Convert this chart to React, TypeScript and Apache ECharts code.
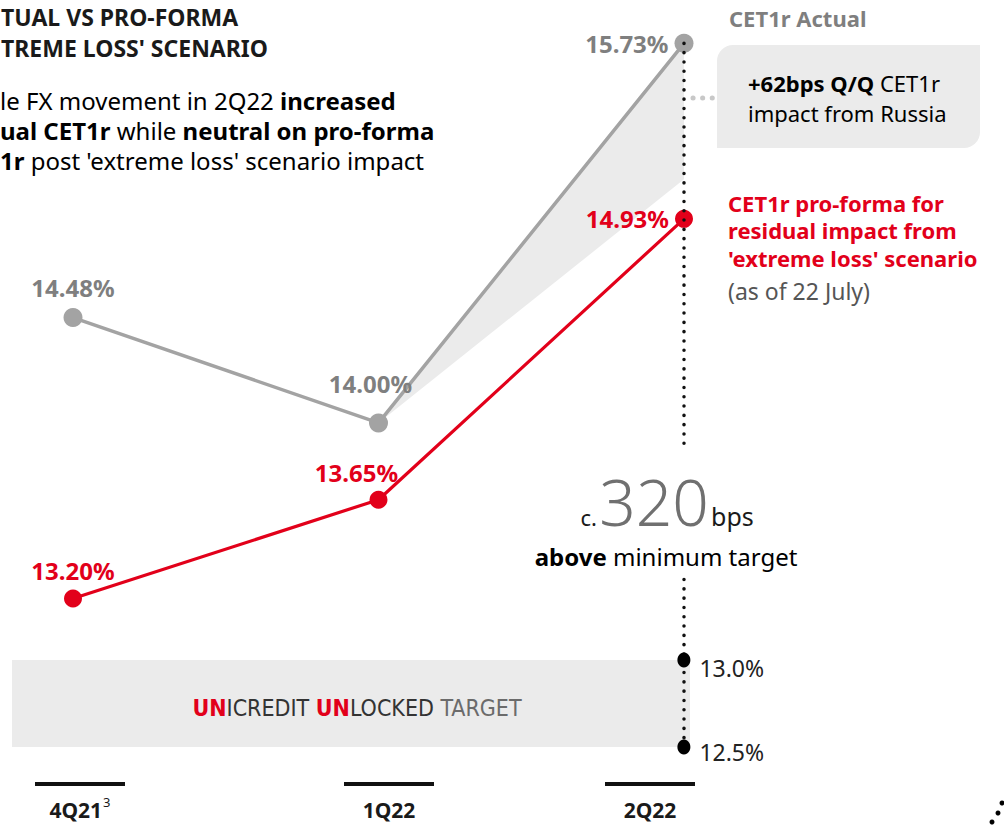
import React, { useEffect, useRef } from "react";
import * as echarts from "echarts";

// ---------- data ----------
const categories = ["4Q21", "1Q22", "2Q22"];
const footnotes = ["3", "", ""];
const actual = [14.48, 14.0, 15.73];
const proForma = [13.2, 13.65, 14.93];
const russiaBase = [null, 14.0, 15.11];
const russiaImpact = [null, 0, 0.62];
const targetRange = [12.5, 13.0];
const targetLabels = ["12.5%", "13.0%"];
const bpsAboveMin = "320";

// ---------- styles ----------
const FONT = "'Noto Sans', sans-serif";
const NARROW = "'Liberation Sans Narrow', 'DejaVu Sans Condensed', sans-serif";
const RED = "#e2001a";
const GREY_LINE = "#a3a3a3";
const GREY_TEXT = "#7f7f7f";
const DARK = "#1a1a1a";
const FILL = "#ebebeb";

const actualLabelCfg = [
  { position: "top", distance: 9 },
  { position: "top", distance: 18, offset: [-8, 0] },
  { position: "left", distance: 6 },
];
const proFormaLabelCfg = [
  { position: "top", distance: 7 },
  { position: "top", distance: 6, offset: [-22, 0] },
  { position: "left", distance: 6 },
];
const axisLabelPadding = [[0, 0, 0, 0], [0, 0, 0, 48], [0, 0, 0, 0]];
const targetLabelOffsets = [[0, 5], [0, 8]];
const upperGuideEnd = 13.9; // where the dotted guide breaks (main axis)
const lowerGuideStart = 13.5; // where the dotted guide resumes (target axis)
const bandX = [-0.2, 2.02];

export default function App() {
  const ref = useRef<HTMLDivElement>(null);
  useEffect(() => {
    if (!ref.current) return;
    const chart = echarts.init(ref.current, undefined, { renderer: "svg" });
    const dotted = {
      color: "#111",
      width: 3.5,
      type: [0.1, 9.2],
      cap: "round",
    };
    const option: any = {
      animation: false,
      backgroundColor: "#fff",
      textStyle: { fontFamily: FONT },
      grid: [
        { left: 73, right: 320, top: 6, bottom: 52 },
        { left: 12, right: 314, top: 573, bottom: 79 },
        { left: 80, right: 354, top: 700, bottom: 44 },
      ],
      xAxis: [
        { gridIndex: 0, type: "category", data: categories, boundaryGap: false, show: false },
        { gridIndex: 1, type: "value", min: bandX[0], max: bandX[1], show: false },
        {
          gridIndex: 2,
          type: "category",
          data: categories.map((c, i) => ({ value: c, textStyle: { padding: axisLabelPadding[i] } })),
          boundaryGap: false,
          axisLine: { show: false },
          axisTick: { show: false },
          splitLine: { show: false },
          axisLabel: {
            margin: 0,
            interval: 0,
            formatter: (v: string, i: number) =>
              `{bar|}\n{t|${v}}` + (footnotes[i] ? `{s|${footnotes[i]}}` : ""),
            rich: {
              bar: { width: 90, height: 4, lineHeight: 4, backgroundColor: "#111" },
              t: { fontFamily: FONT, fontSize: 21, fontWeight: "bold", color: DARK, lineHeight: 48 },
              s: { fontFamily: FONT, fontSize: 13, color: DARK, padding: [0, 0, 16, 1] },
            },
          },
        },
      ],
      yAxis: [
        { gridIndex: 0, type: "value", min: 12.4, max: 15.9, show: false },
        { gridIndex: 1, type: "value", min: 12.5, max: 13.5, show: false },
        { gridIndex: 2, type: "value", show: false },
      ],
      series: [
        {
          type: "line",
          xAxisIndex: 0,
          yAxisIndex: 0,
          data: russiaBase,
          stack: "russia",
          symbol: "none",
          lineStyle: { opacity: 0 },
          silent: true,
          z: 1,
        },
        {
          type: "line",
          xAxisIndex: 0,
          yAxisIndex: 0,
          data: russiaImpact,
          stack: "russia",
          symbol: "none",
          lineStyle: { opacity: 0 },
          areaStyle: { color: FILL, opacity: 1 },
          silent: true,
          z: 1,
        },
        {
          type: "line",
          xAxisIndex: 1,
          yAxisIndex: 1,
          data: [],
          silent: true,
          z: 1,
          markArea: {
            silent: true,
            itemStyle: { color: FILL },
            label: {
              show: true,
              position: "inside",
              offset: [6, 4],
              formatter: "{u|UN}{d|ICREDIT }{u|UN}{d|LOCKED}{g| TARGET}",
              rich: {
                u: { fontFamily: NARROW, fontSize: 23, fontWeight: "bold", color: RED },
                d: { fontFamily: NARROW, fontSize: 23, color: "#333" },
                g: { fontFamily: NARROW, fontSize: 23, color: "#6b6b6b" },
              },
            },
            data: [[{ coord: [bandX[0], targetRange[1]] }, { coord: [bandX[1], targetRange[0]] }]],
          },
        },
        {
          name: "CET1r Actual",
          type: "line",
          xAxisIndex: 0,
          yAxisIndex: 0,
          data: actual.map((v, i) => ({ value: v, label: actualLabelCfg[i] })),
          color: GREY_LINE,
          lineStyle: { width: 3.5, color: GREY_LINE },
          symbol: "circle",
          symbolSize: 19,
          itemStyle: { color: GREY_LINE },
          label: {
            show: true,
            color: GREY_TEXT,
            fontFamily: FONT,
            fontSize: 24,
            fontWeight: "bold",
            formatter: (p: any) => p.value.toFixed(2) + "%",
          },
          z: 2,
        },
        {
          name: "CET1r pro-forma",
          type: "line",
          xAxisIndex: 0,
          yAxisIndex: 0,
          data: proForma.map((v, i) => ({ value: v, label: proFormaLabelCfg[i] })),
          color: RED,
          lineStyle: { width: 3.2, color: RED },
          symbol: "circle",
          symbolSize: 18,
          itemStyle: { color: RED },
          label: {
            show: true,
            color: RED,
            fontFamily: FONT,
            fontSize: 24,
            fontWeight: "bold",
            formatter: (p: any) => p.value.toFixed(2) + "%",
          },
          z: 2,
        },
        {
          type: "line",
          xAxisIndex: 0,
          yAxisIndex: 0,
          data: [],
          silent: true,
          z: 5,
          markLine: {
            silent: true,
            symbol: ["none", "none"],
            label: { show: false },
            lineStyle: dotted,
            data: [[{ coord: [categories[2], actual[2]] }, { coord: [categories[2], upperGuideEnd] }]],
          },
        },
        {
          type: "line",
          xAxisIndex: 1,
          yAxisIndex: 1,
          data: [],
          silent: true,
          z: 5,
          markLine: {
            silent: true,
            symbol: ["none", "none"],
            label: { show: false },
            lineStyle: dotted,
            data: [[{ coord: [2, targetRange[0]] }, { coord: [2, lowerGuideStart] }]],
          },
        },
        {
          type: "scatter",
          xAxisIndex: 1,
          yAxisIndex: 1,
          data: targetRange.map((v, i) => ({
            value: [2, v],
            label: { offset: targetLabelOffsets[i] },
          })),
          symbol: "circle",
          symbolSize: [13, 15],
          itemStyle: { color: "#000", opacity: 1 },
          label: {
            show: true,
            position: "right",
            distance: 9,
            color: "#222",
            fontFamily: FONT,
            fontSize: 23,
            formatter: (p: any) => targetLabels[p.dataIndex],
          },
          z: 6,
        },
      ],
      graphic: [
        {
          type: "text",
          left: 1,
          top: 1,
          style: {
            text: "TUAL VS PRO-FORMA\nTREME LOSS' SCENARIO",
            fontFamily: FONT,
            fontSize: 23,
            fontWeight: "bold",
            fill: DARK,
            lineHeight: 31,
          },
        },
        {
          type: "text",
          left: 0,
          top: 88,
          style: {
            text:
              "{r|le FX movement in 2Q22 }{b|increased}\n{b|ual CET1r}{r| while }{b|neutral on pro-forma}\n{b|1r}{r| post 'extreme loss' scenario impact}",
            rich: {
              r: { fontFamily: FONT, fontSize: 24, color: DARK, lineHeight: 30 },
              b: { fontFamily: FONT, fontSize: 24, fontWeight: "bold", color: DARK, lineHeight: 30 },
            },
          },
        },
        {
          type: "text",
          x: 729,
          y: 18,
          style: {
            text: "CET1r Actual",
            fontFamily: FONT,
            fontSize: 22,
            fontWeight: "bold",
            fill: GREY_TEXT,
            verticalAlign: "middle",
          },
        },
        {
          type: "rect",
          shape: { x: 717, y: 45, width: 263, height: 103, r: [16, 0, 16, 0] },
          style: { fill: FILL },
          z: 0,
        },
        {
          type: "line",
          shape: { x1: 693, y1: 98, x2: 713, y2: 98 },
          style: { stroke: "#c8c8c8", lineWidth: 5, lineDash: [0.1, 9.5], lineCap: "round" },
        },
        {
          type: "text",
          x: 748,
          y: 68,
          style: {
            text: "{b|+62bps Q/Q}{r| CET1r}\n{r|impact from Russia}",
            rich: {
              r: { fontFamily: FONT, fontSize: 22, color: DARK, lineHeight: 30 },
              b: { fontFamily: FONT, fontSize: 22, fontWeight: "bold", color: DARK, lineHeight: 30 },
            },
          },
        },
        {
          type: "text",
          x: 728,
          y: 189,
          style: {
            text: "CET1r pro-forma for\nresidual impact from\n'extreme loss' scenario",
            fontFamily: FONT,
            fontSize: 22,
            fontWeight: "bold",
            fill: RED,
            lineHeight: 27.5,
          },
        },
        {
          type: "text",
          x: 728,
          y: 291,
          style: {
            text: "(as of 22 July)",
            fontFamily: FONT,
            fontSize: 23,
            fill: "#555",
            verticalAlign: "middle",
          },
        },
        {
          type: "text",
          x: 597,
          y: 517,
          style: { text: "c.", fontFamily: FONT, fontSize: 22, fill: DARK, align: "right", verticalAlign: "middle" },
        },
        {
          type: "text",
          x: 654,
          y: 501,
          style: {
            text: bpsAboveMin,
            fontFamily: FONT,
            fontSize: 64,
            fontWeight: 300,
            fill: "#707070",
            align: "center",
            verticalAlign: "middle",
          },
        },
        {
          type: "text",
          x: 711,
          y: 516,
          style: { text: "bps", fontFamily: FONT, fontSize: 25, fill: DARK, verticalAlign: "middle" },
        },
        {
          type: "text",
          x: 666,
          y: 556,
          style: {
            text: "{b|above}{r| minimum target}",
            align: "center",
            verticalAlign: "middle",
            rich: {
              r: { fontFamily: FONT, fontSize: 24, color: DARK },
              b: { fontFamily: FONT, fontSize: 24, fontWeight: "bold", color: DARK },
            },
          },
        },
        { type: "circle", shape: { cx: 1002, cy: 803, r: 2.5 }, style: { fill: "#000" } },
        { type: "circle", shape: { cx: 998, cy: 813, r: 2.5 }, style: { fill: "#000" } },
        { type: "circle", shape: { cx: 992, cy: 822, r: 2.5 }, style: { fill: "#000" } },
      ],
    };
    chart.setOption(option);
    return () => chart.dispose();
  }, []);
  return (
    <div
      ref={ref}
      style={{ position: "fixed", left: 0, top: 0, width: 1004, height: 826, background: "#fff" }}
    />
  );
}
